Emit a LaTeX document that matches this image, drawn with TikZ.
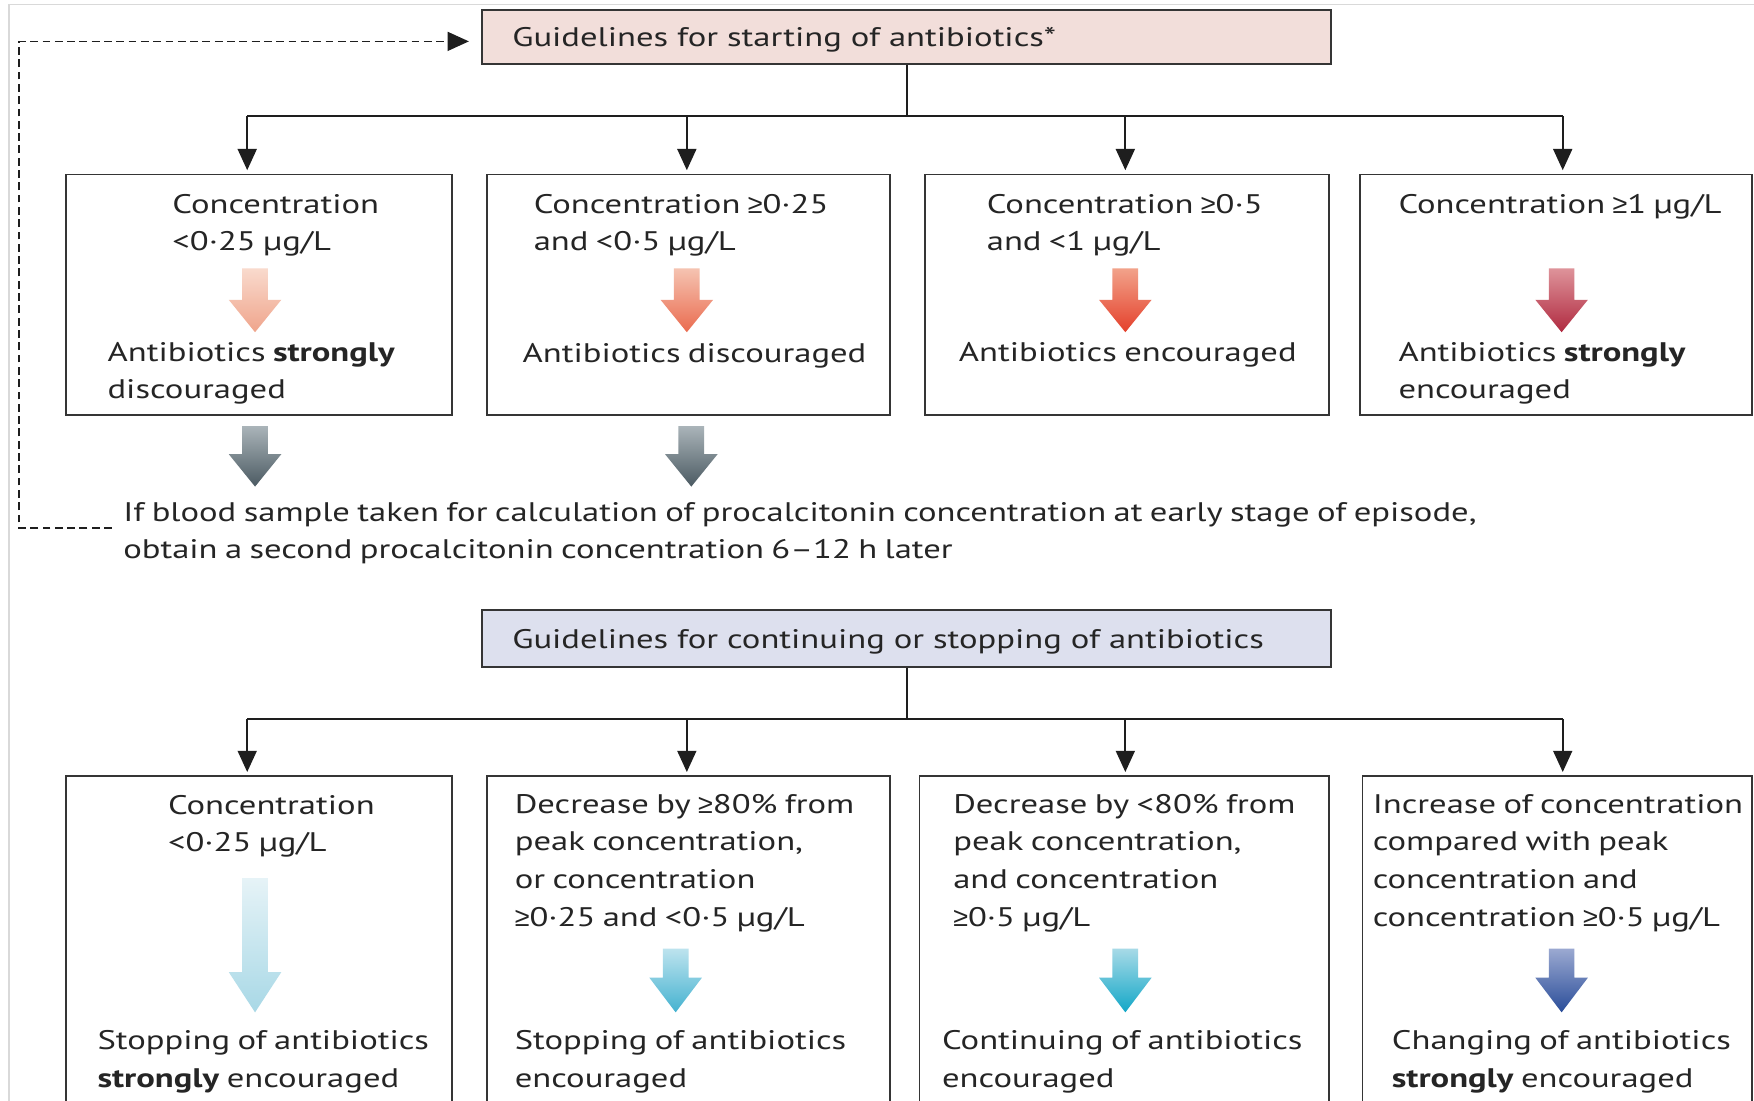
\documentclass[tikz,border=0pt]{standalone}
\usepackage{fontspec}
\setmainfont{PT Sans}[FakeStretch=1.29, WordSpace=0.8]
\newfontfamily\symf{Liberation Sans}
\newcommand\gee{{\symf ≥}}
\usetikzlibrary{arrows.meta}
\definecolor{txtc}{HTML}{252525}
\definecolor{boxc}{HTML}{353535}
\definecolor{linec}{HTML}{1E1E1E}
\definecolor{pinkf}{HTML}{F2DEDA}
\definecolor{lavf}{HTML}{DDE0EE}
\definecolor{raT}{HTML}{F9DACD}\definecolor{raB}{HTML}{EFA48B}
\definecolor{rbT}{HTML}{F5C3B1}\definecolor{rbB}{HTML}{EA6B4F}
\definecolor{rcT}{HTML}{F2A28A}\definecolor{rcB}{HTML}{E4402B}
\definecolor{rdT}{HTML}{DE939A}\definecolor{rdB}{HTML}{B02A40}
\definecolor{grT}{HTML}{AAB4B9}\definecolor{grB}{HTML}{4B5A62}
\definecolor{baT}{HTML}{E6F3F7}\definecolor{baB}{HTML}{A8D8E6}
\definecolor{bbT}{HTML}{BDE3EE}\definecolor{bbB}{HTML}{44B2D0}
\definecolor{bcT}{HTML}{A7DAE7}\definecolor{bcB}{HTML}{12A7C7}
\definecolor{bdT}{HTML}{9BA9D1}\definecolor{bdB}{HTML}{2A4D99}
% block arrow: x, y top, y tip, head length, top colour, bottom colour
\newcommand\blkarrow[6]{%
  \shade[top color=#5, bottom color=#6]
    (#1-11.5,#2) -- (#1+11.5,#2) -- (#1+11.5,#3-#4) -- (#1+23.5,#3-#4)
    -- (#1,#3) -- (#1-23.5,#3-#4) -- (#1-11.5,#3-#4) -- cycle;}
\begin{document}
\begin{tikzpicture}[x=1pt,y=-1pt,
  box/.style={draw=boxc, line width=1.7pt, inner sep=0pt},
  headbox/.style={box, minimum width=759pt, align=left, text width=705pt,
    text height=23pt, text depth=5.3pt,
    text=txtc, font=\fontsize{24}{33}\selectfont},
  txt/.style={anchor=base west, inner sep=0pt, text=txtc, font=\fontsize{24}{33}\selectfont},
  conn/.style={draw=linec, line width=1.6pt},
  arr/.style={conn, -{Triangle[width=17pt,length=19pt]}, shorten >=3pt},
  dconn/.style={draw=linec, line width=1.2pt, dash pattern=on 7pt off 4pt,
    -{Triangle[width=17pt,length=19pt]}}]
\useasboundingbox (0,0) rectangle (1568,984);
\clip (0,0) rectangle (1568,984);
\fill[white] (0,0) rectangle (1568,984);
\draw[black!15, line width=1pt] (8,984) -- (8,4) -- (1568,4);

% ---------- top part ----------
\node[headbox, fill=pinkf, minimum height=48pt] (t1) at (810.5,33)
  {Guidelines for starting of antibiotics*};

\node[box, minimum width=345pt, minimum height=215pt] (b1) at (231.5,263.5) {};
\node[box, minimum width=361pt, minimum height=215pt] (b2) at (615.5,263.5) {};
\node[box, minimum width=361pt, minimum height=215pt] (b3) at (1007.5,263.5) {};
\node[box, minimum width=350pt, minimum height=215pt] (b4) at (1391,263.5) {};

\coordinate (h1a) at (221,104);
\coordinate (h1b) at (614,104);
\coordinate (h1c) at (1006,104);
\coordinate (h1d) at (1397,104);
\draw[conn] (t1.south) -- (t1.south |- h1a);
\draw[conn] (h1a) -- (h1d);
\draw[arr] (h1a) -- (h1a |- b1.north);
\draw[arr] (h1b) -- (h1b |- b2.north);
\draw[arr] (h1c) -- (h1c |- b3.north);
\draw[arr] (h1d) -- (h1d |- b4.north);

\node[txt] (b1l1) at (154,191) {Concentration};
\node[txt] (b1l2) at (154,224) {<0·25 µg/L};
\node[txt] (b1l3) at (96,323) {Antibiotics \textbf{strongly}};
\node[txt] (b1l4) at (96,356) {discouraged};
\blkarrow{228}{240}{297}{29}{raT}{raB}

\node[txt] (b2l1) at (477,191) {Concentration \gee0·25};
\node[txt] (b2l2) at (477,224) {and <0·5 µg/L};
\node[txt] (b2l3) at (467,324) {Antibiotics discouraged};
\blkarrow{614}{240}{297}{29}{rbT}{rbB}

\node[txt] (b3l1) at (882,191) {Concentration \gee0·5};
\node[txt] (b3l2) at (882,224) {and <1 µg/L};
\node[txt] (b3l3) at (857,323) {Antibiotics encouraged};
\blkarrow{1006}{240}{297}{29}{rcT}{rcB}

\node[txt] (b4l1) at (1250,191) {Concentration \gee1 µg/L};
\node[txt] (b4l3) at (1250,323) {Antibiotics \textbf{strongly}};
\node[txt] (b4l4) at (1250,356) {encouraged};
\blkarrow{1396}{240}{297}{29}{rdT}{rdB}

\blkarrow{228}{381}{435}{29}{grT}{grB}
\blkarrow{618}{381}{435}{29}{grT}{grB}

\node[txt] (n1) at (110,466) {If blood sample taken for calculation of procalcitonin concentration at early stage of episode,};
\node[txt] (n2) at (110,499) {obtain a second procalcitonin concentration 6–12 h later};

\coordinate (dstart) at (100,472);
\coordinate (dcorner) at (17,472);
\draw[dconn] (dstart) -- (dcorner) |- ([xshift=-11pt,yshift=-4pt]t1.west);

% ---------- bottom part ----------
\node[headbox, fill=lavf, minimum height=51pt] (t2) at (810.5,570.5)
  {Guidelines for continuing or stopping of antibiotics};

\node[box, minimum width=345pt, minimum height=320pt] (c1) at (231.5,854) {};
\node[box, minimum width=361pt, minimum height=320pt] (c2) at (615.5,854) {};
\node[box, minimum width=366pt, minimum height=320pt] (c3) at (1005,854) {};
\node[box, minimum width=348pt, minimum height=320pt] (c4) at (1392,854) {};

\coordinate (h2a) at (221,643);
\coordinate (h2b) at (614,643);
\coordinate (h2c) at (1006,643);
\coordinate (h2d) at (1397,643);
\draw[conn] (t2.south) -- (t2.south |- h2a);
\draw[conn] (h2a) -- (h2d);
\draw[arr] (h2a) -- (h2a |- c1.north);
\draw[arr] (h2b) -- (h2b |- c2.north);
\draw[arr] (h2c) -- (h2c |- c3.north);
\draw[arr] (h2d) -- (h2d |- c4.north);

\node[txt] (c1l1) at (150,728) {Concentration};
\node[txt] (c1l2) at (150,761) {<0·25 µg/L};
\blkarrow{228}{785}{905}{36}{baT}{baB}
\node[txt] (c1l3) at (87,938) {Stopping of antibiotics};
\node[txt] (c1l4) at (87,972) {\textbf{strongly} encouraged};

\node[txt] (c2l1) at (460,727) {Decrease by \gee80\% from};
\node[txt] (c2l2) at (460,760) {peak concentration,};
\node[txt] (c2l3) at (460,794) {or concentration};
\node[txt] (c2l4) at (460,828) {\gee0·25 and <0·5 µg/L};
\blkarrow{604}{848}{905}{31}{bbT}{bbB}
\node[txt] (c2l5) at (460,938) {Stopping of antibiotics};
\node[txt] (c2l6) at (460,972) {encouraged};

\node[txt] (c3l1) at (852,727) {Decrease by <80\% from};
\node[txt] (c3l2) at (852,760) {peak concentration,};
\node[txt] (c3l3) at (852,794) {and concentration};
\node[txt] (c3l4) at (852,828) {\gee0·5 µg/L};
\blkarrow{1006}{848}{905}{31}{bcT}{bcB}
\node[txt] (c3l5) at (842,938) {Continuing of antibiotics};
\node[txt] (c3l6) at (842,972) {encouraged};

\node[txt] (c4l1) at (1227,727) {Increase of concentration};
\node[txt] (c4l2) at (1227,760) {compared with peak};
\node[txt] (c4l3) at (1227,794) {concentration and};
\node[txt] (c4l4) at (1227,828) {concentration \gee0·5 µg/L};
\blkarrow{1396}{848}{905}{31}{bdT}{bdB}
\node[txt] (c4l5) at (1244,938) {Changing of antibiotics};
\node[txt] (c4l6) at (1244,972) {\textbf{strongly} encouraged};
\end{tikzpicture}
\end{document}
